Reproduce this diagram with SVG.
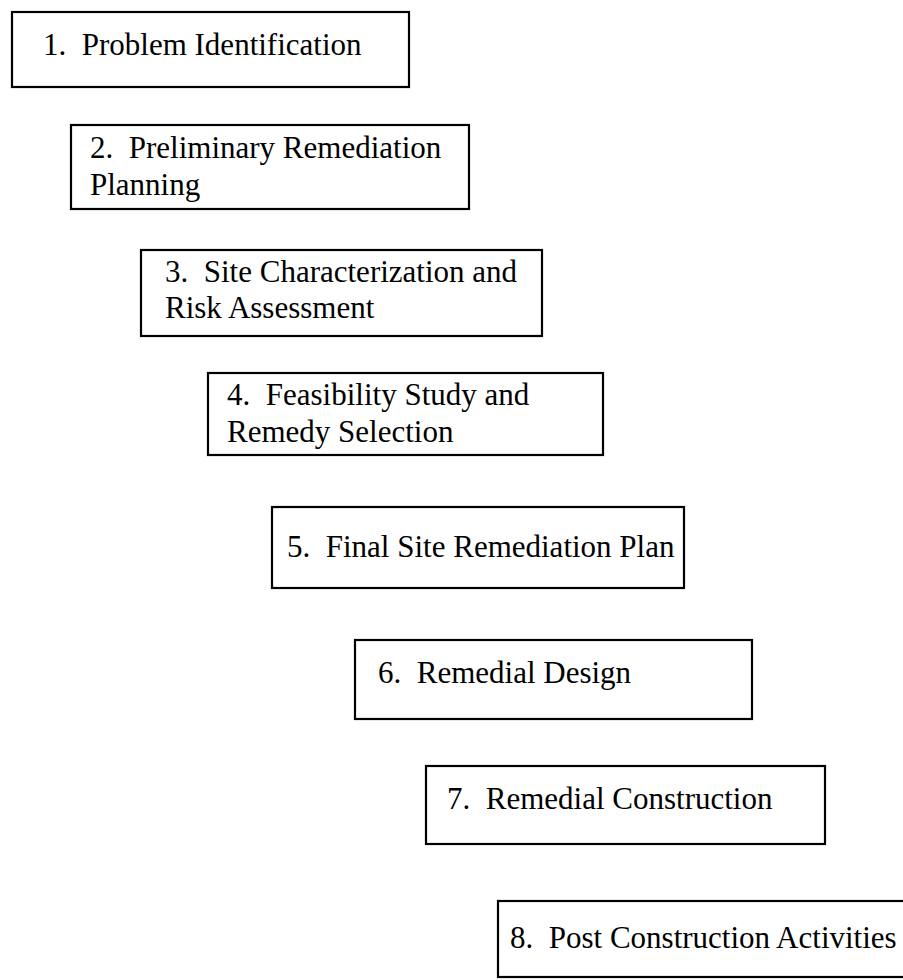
<svg xmlns="http://www.w3.org/2000/svg" width="903" height="980" viewBox="0 0 903 980">
<style>
.box{fill:#fff;stroke:#000;stroke-width:2.2}
.t{font-family:"Liberation Serif","Times New Roman",serif;font-size:31px;fill:#000}
</style>
<rect width="903" height="980" fill="#fff"/>
<g id="connectors"></g>
<g id="n1"><rect class="box" x="12" y="12" width="397" height="75"/><text class="t" x="43" y="55">1.&#160; Problem Identification</text></g>
<g id="n2"><rect class="box" x="71" y="125" width="398" height="84"/><text class="t" x="90" y="158">2.&#160; Preliminary Remediation</text><text class="t" x="90" y="195">Planning</text></g>
<g id="n3"><rect class="box" x="141" y="250" width="401" height="86"/><text class="t" x="165" y="282">3.&#160; Site Characterization and</text><text class="t" x="165" y="318">Risk Assessment</text></g>
<g id="n4"><rect class="box" x="208" y="373" width="395" height="82"/><text class="t" x="227" y="405">4.&#160; Feasibility Study and</text><text class="t" x="227" y="442">Remedy Selection</text></g>
<g id="n5"><rect class="box" x="272" y="507" width="412" height="81"/><text class="t" x="287" y="557">5.&#160; Final Site Remediation Plan</text></g>
<g id="n6"><rect class="box" x="355" y="640" width="397" height="79"/><text class="t" x="378" y="683">6.&#160; Remedial Design</text></g>
<g id="n7"><rect class="box" x="426" y="766" width="399" height="78"/><text class="t" x="447" y="809">7.&#160; Remedial Construction</text></g>
<g id="n8"><rect class="box" x="498" y="901" width="420" height="76"/><text class="t" x="510" y="948">8.&#160; Post Construction Activities</text></g>
</svg>
